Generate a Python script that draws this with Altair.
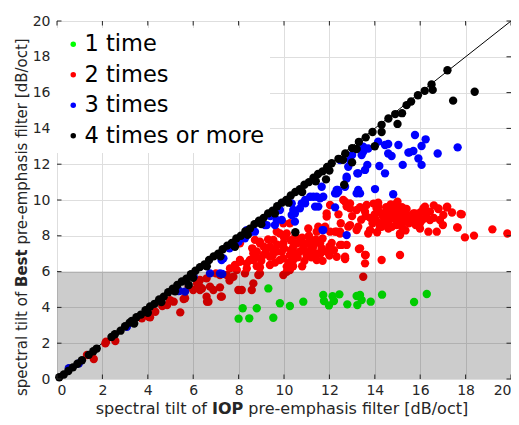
import altair as alt
import pandas as pd

groups = ["1 time", "2 times", "3 times", "4 times or more"]
group_colors = ["#00ff00", "#ff0000", "#0000ff", "#000000"]

green_pts = [
    (8.0, 3.37), (8.18, 3.95), (8.47, 3.39), (8.8, 3.95), (9.31, 5.06), (9.53, 3.42),
    (9.82, 4.23), (10.26, 4.08), (10.85, 4.32), (11.73, 4.69), (11.76, 4.36), (11.98, 4.11),
    (12.14, 4.62), (12.2, 4.36), (12.44, 4.73), (12.79, 4.17), (13.2, 4.64), (13.35, 4.69),
    (13.42, 4.41), (13.23, 4.13), (13.82, 4.32), (14.32, 4.71), (15.73, 4.30), (16.29, 4.75),
]

red_pts = [
    # upper band
    (14.15, 9.63), (14.52, 9.35), (14.7, 9.2), (14.9, 9.4), (15.1, 9.1), (14.4, 9.0),
    (14.6, 8.8), (14.85, 8.95), (15.0, 8.7), (15.3, 9.3), (14.3, 8.5), (14.75, 8.5),
    (15.2, 8.5), (16.14, 9.53), (16.43, 9.35), (16.8, 9.53), (17.17, 9.58), (17.78, 9.22),
    (17.63, 8.47), (17.97, 7.91), (18.37, 8.01), (19.18, 8.36), (19.84, 8.13), (12.91, 9.53),
    (13.64, 9.72), (13.57, 9.35), (12.61, 10.0), (12.91, 9.81), (11.88, 9.07), (12.03, 9.72),
    (11.81, 8.51), (11.07, 8.41), (11.51, 8.51), (12.03, 8.23), (12.25, 8.23), (12.47, 8.23),
    (12.83, 8.51), (13.27, 8.51), (13.71, 8.13), (14.38, 8.7), (15.11, 8.04), (15.7, 9.25),
    (15.99, 8.7), (16.36, 8.23), (16.73, 8.23), (17.65, 8.46), (17.83, 9.2), (17.19, 9.63),
    (16.8, 9.5), (16.21, 9.63), (16.26, 9.25), (16.43, 8.88), (15.99, 8.41), (15.77, 9.25),
    (15.4, 8.97), (15.11, 8.13), (14.67, 9.53), (14.81, 9.07), (14.52, 8.7), (14.96, 8.6),
    (14.15, 9.85), (14.08, 9.53), (14.05, 8.88), (14.23, 8.51), (13.79, 8.32), (13.2, 9.44),
    (12.91, 8.6), (13.2, 8.32), (12.76, 9.63), (12.69, 9.91), (16.87, 8.88), (17.02, 9.16),
    (12.47, 8.13), (11.88, 9.25), (12.32, 8.23), (11.44, 8.23), (10.26, 8.7), (9.82, 8.13),
    (9.97, 8.7), (9.68, 8.23), (10.12, 8.13), (9.97, 8.04),
    (14.3, 9.2), (14.5, 9.6), (14.7, 9.75), (15.2, 9.6), (15.4, 9.5), (15.5, 8.7),
    (15.6, 8.9), (14.0, 9.2), (13.9, 8.7), (14.1, 8.2), (15.0, 9.9), (15.9, 9.0),
    (16.1, 8.9), (16.6, 9.0), (13.4, 8.9), (13.0, 9.1), (12.5, 8.7), (12.4, 9.2),
    (13.8, 9.0), (14.2, 9.35), (14.45, 9.15), (14.65, 9.45), (14.9, 9.2), (15.1, 9.5),
    (15.25, 8.8), (15.45, 9.15), (15.7, 8.95), (15.8, 8.6), (16.0, 9.3), (16.3, 9.0),
    (14.2, 8.7), (14.6, 8.4), (15.35, 8.3), (13.95, 9.8), (14.9, 9.75), (13.6, 9.1),
    (13.35, 9.6), (16.6, 9.7), (17.4, 9.3), (17.0, 8.6),
    # middle band
    (9.53, 7.77), (9.97, 7.58), (9.38, 7.39), (8.94, 7.67), (8.8, 7.12), (9.09, 6.93),
    (9.68, 7.12), (9.82, 6.65), (10.12, 6.28), (9.38, 6.37), (8.94, 6.24), (8.5, 6.65),
    (8.36, 6.18), (8.06, 6.55), (7.92, 6.09), (7.62, 6.18), (10.7, 7.67), (10.41, 7.39),
    (11.0, 7.57), (11.29, 7.49), (11.66, 7.3), (11.88, 7.12), (11.44, 7.02), (11.15, 7.12),
    (10.85, 7.21), (10.56, 7.02), (10.26, 6.93), (9.97, 6.74), (9.53, 7.21), (9.38, 6.83),
    (8.65, 6.65), (8.94, 7.58), (11.44, 6.65), (12.47, 7.49), (13.35, 7.3), (13.57, 6.93),
    (13.57, 6.46), (14.3, 6.65), (15.11, 6.93), (12.69, 6.74), (10.26, 6.09), (12.69, 6.7),
    (13.6, 6.93), (13.3, 7.26), (12.54, 7.49), (10.41, 6.65), (10.7, 7.12), (10.85, 7.39),
    (10.56, 7.58), (11.15, 7.77), (11.29, 7.39), (11.59, 7.58), (12.69, 6.83), (12.76, 7.49),
    (12.32, 6.83), (8.72, 7.77), (8.65, 7.02), (8.36, 6.46), (8.8, 6.3), (8.06, 6.65),
    (7.84, 6.37), (8.43, 8.13), (8.06, 7.58), (12.0, 6.9), (11.7, 6.6), (10.0, 7.9),
    (10.0, 7.3), (10.3, 7.2), (10.6, 6.8), (11.0, 6.9), (11.2, 7.3), (11.6, 7.0),
    (10.9, 6.6), (9.2, 7.1), (9.6, 6.5), (10.2, 6.5), (8.6, 7.3), (9.1, 7.4),
    (9.3, 7.8), (9.7, 7.5), (10.3, 7.75), (10.5, 8.0), (10.8, 7.9), (11.1, 8.0),
    (11.4, 7.8), (11.7, 7.85), (12.1, 7.6), (12.2, 7.2), (9.5, 6.9), (9.9, 7.1),
    (10.4, 6.3), (10.8, 6.3), (11.2, 6.8), (12.0, 7.4), (9.0, 6.6), (8.8, 6.8),
    # lower part (shaded region)
    (9.97, 5.81), (8.94, 5.9), (13.49, 5.71), (7.48, 5.81), (7.18, 5.81), (6.59, 5.62),
    (6.3, 5.53), (6.74, 5.16), (6.3, 4.97), (6.89, 4.97), (7.26, 4.6), (7.99, 4.97),
    (8.14, 4.97), (8.58, 4.97), (8.65, 5.34), (8.87, 5.81), (10.12, 5.99), (5.64, 4.51),
    (6.0, 4.97), (6.59, 4.6), (5.43, 3.72), (5.58, 4.47), (5.14, 4.32), (4.85, 4.13),
    (4.33, 3.76), (4.04, 3.48), (3.74, 3.39), (2.57, 2.12), (2.13, 1.99), (1.62, 1.12),
    (1.32, 1.34), (5.8, 5.16), (6.39, 5.06), (6.17, 5.34), (6.61, 4.32), (8.28, 5.9),
    (7.22, 4.6), (6.67, 4.32), (6.27, 5.2), (7.18, 5.12), (7.77, 5.71), (4.98, 4.41),
    (4.64, 4.08), (4.1, 3.45), (2.16, 2.08), (7.0, 5.9), (7.6, 5.5),
]

blue_pts = [
    (15.77, 13.63), (16.24, 13.39), (17.65, 12.94), (16.77, 12.6), (16.06, 11.96), (15.92, 12.32),
    (15.7, 12.74), (15.23, 11.96), (15.52, 12.66), (15.04, 13.07), (14.74, 12.46), (14.59, 12.6),
    (14.45, 13.07), (14.15, 13.26), (13.71, 12.88), (13.49, 12.7), (14.2, 11.9), (14.45, 11.49),
    (13.67, 11.96), (13.57, 11.68), (13.27, 11.49), (12.83, 11.86), (12.91, 12.23), (12.76, 11.2),
    (12.69, 10.74), (13.35, 10.37), (13.27, 10.56), (14.01, 10.61), (14.81, 10.32), (12.25, 10.37),
    (12.39, 10.46), (11.66, 10.74), (11.15, 10.18), (11.59, 10.09), (11.51, 9.63), (12.25, 9.59),
    (11.7, 8.32), (12.76, 8.04), (10.41, 9.44), (10.34, 9.16), (10.48, 8.79), (9.82, 9.44),
    (9.68, 8.88), (9.16, 8.6), (8.72, 8.23), (10.93, 9.81), (10.7, 9.53), (14.59, 13.13),
    (16.06, 13.02), (15.48, 12.65), (13.42, 12.51), (13.49, 12.98), (13.0, 12.51), (13.23, 11.49),
    (12.76, 11.3), (12.37, 10.56), (13.2, 10.37), (12.47, 12.23), (12.32, 10.56), (11.73, 10.18),
    (11.29, 10.18), (10.78, 9.81), (10.34, 9.81), (11.44, 10.18), (12.32, 10.37), (11.37, 9.63),
    (10.93, 10.0), (10.48, 9.25), (9.9, 8.88), (9.6, 8.6), (9.24, 8.6), (8.28, 7.86),
    (7.33, 6.74), (6.74, 5.9), (7.18, 5.9), (7.25, 6.65), (7.28, 5.87), (5.64, 4.88),
    (5.39, 4.92), (11.73, 8.32), (5.36, 4.91), (6.02, 5.71), (3.08, 2.92), (0.96, 0.87),
    (0.52, 0.6), (8.0, 7.7), (8.5, 8.2), (7.6, 7.3), (9.0, 8.8), (9.4, 9.1), (7.8, 7.5),
    (7.99, 7.67), (8.36, 8.32),
]

black_pts = [
    (0.1, 0.1), (0.3, 0.25), (0.5, 0.45), (0.7, 0.65), (0.9, 0.85), (1.1, 1.05), (1.4, 1.35),
    (1.6, 1.55), (1.75, 1.7), (2.4, 2.35), (2.55, 2.5), (2.8, 2.7), (3.0, 2.95), (3.2, 3.15),
    (3.3, 3.25), (3.5, 3.45), (3.7, 3.6), (3.9, 3.85), (4.1, 4.05), (4.3, 4.2), (4.5, 4.45),
    (4.7, 4.6), (4.9, 4.85), (5.1, 5.05), (5.3, 5.25), (5.5, 5.45), (5.7, 5.6), (5.9, 5.85),
    (6.1, 6.05), (6.3, 6.25), (6.5, 6.4), (6.7, 6.65), (6.9, 6.85), (7.1, 7.0), (7.3, 7.25),
    (7.5, 7.45), (7.7, 7.6), (7.9, 7.85), (8.1, 8.0), (8.3, 8.25), (8.5, 8.4), (8.7, 8.65),
    (8.9, 8.85), (9.1, 9.0), (9.3, 9.25), (9.5, 9.4), (9.7, 9.65), (9.9, 9.85), (10.1, 10.0),
    (10.3, 10.25), (10.5, 10.45), (10.7, 10.6), (10.9, 10.85), (11.1, 11.0), (11.3, 11.25),
    (11.5, 11.45), (11.7, 11.6), (11.9, 11.85), (12.1, 12.05), (12.4, 12.3), (12.7, 12.6),
    (13.0, 12.9), (13.3, 13.25), (13.6, 13.5), (13.9, 13.8), (14.3, 14.2), (14.6, 14.55),
    (14.9, 14.8), (15.4, 15.3), (15.6, 15.5), (15.9, 15.85), (16.2, 16.1), (16.5, 16.45),
    (17.2, 17.25),
    (3.4, 3.1), (4.0, 3.7), (4.6, 4.3), (5.2, 4.9), (6.0, 5.65), (6.6, 6.3), (7.2, 6.85),
    (7.8, 7.45), (8.4, 8.05), (9.0, 8.65), (9.6, 9.25), (10.2, 9.85), (10.8, 10.45),
    (11.4, 11.05), (12.0, 11.65), (12.6, 12.25), (13.2, 12.85),
    (18.4, 16.05), (17.45, 15.55), (16.55, 16.15), (15.2, 14.85), (15.0, 14.25), (14.3, 13.8),
    (14.0, 13.0), (13.0, 12.1), (12.65, 10.85), (11.85, 11.15), (10.5, 8.2), (5.8, 5.25),
    (7.84, 7.39),
]

axis_ticks = [0, 2, 4, 6, 8, 10, 12, 14, 16, 18, 20]
axis_range = [0, 20]
shade_band = [0, 6]
diag_x = [0, 20]
diag_y = [0, 20]

xtitle_parts = ["spectral tilt of", "IOP", "pre-emphasis filter [dB/oct]"]
ytitle_parts = ["spectral tilt of", "Best", "pre-emphasis filter [dB/oct]"]

W, H = 454, 358
FONT = "DejaVu Sans"
TXT = "#262626"

rows = []
for g, pts in zip(groups, [green_pts, red_pts, blue_pts, black_pts]):
    for x, y in pts:
        rows.append({"x": x, "y": y, "group": g})
df = pd.DataFrame(rows)
df["order"] = range(len(df))

xs = alt.Scale(domain=axis_range, nice=False, zero=False)
ys = alt.Scale(domain=axis_range, nice=False, zero=False)
x_axis = alt.Axis(values=axis_ticks, grid=True, gridColor="#dedede", gridWidth=1,
                  domain=False, ticks=False, labelFont=FONT, labelFontSize=14,
                  labelColor=TXT, labelPadding=4, title=None)
y_axis = alt.Axis(values=axis_ticks, grid=True, gridColor="#dedede", gridWidth=1,
                  domain=False, ticks=False, labelFont=FONT, labelFontSize=14,
                  labelColor=TXT, labelPadding=7, title=None)


def X(f):
    return alt.X(f + ":Q", scale=xs, axis=x_axis)


def Y(f):
    return alt.Y(f + ":Q", scale=ys, axis=y_axis)


points = alt.Chart(df).mark_circle(size=70, opacity=1).encode(
    x=X("x"), y=Y("y"),
    color=alt.Color("group:N", scale=alt.Scale(domain=groups, range=group_colors),
                    legend=alt.Legend(orient="none", legendX=0, legendY=7, padding=5,
                                      fillColor="white", title=None, labelFont=FONT,
                                      labelFontSize=22.5, labelColor="black", labelLimit=400,
                                      symbolSize=30, symbolType="circle", rowPadding=7.5,
                                      labelOffset=0, symbolStrokeWidth=0)),
    order=alt.Order("order:Q"),
)

shade = alt.Chart(pd.DataFrame({"x0": [axis_range[0]], "x1": [axis_range[1]],
                                "y0": [shade_band[0]], "y1": [shade_band[1]]})).mark_rect(
    color="black", opacity=0.2).encode(x=X("x0"), x2="x1", y=Y("y0"), y2="y1")

diag = alt.Chart(pd.DataFrame({"x": diag_x, "y": diag_y})).mark_line(
    color="black", strokeWidth=1).encode(x=X("x"), y=Y("y"))

tdf = pd.DataFrame({"t": axis_ticks})
TL = 4.5
tick_b = alt.Chart(tdf).mark_rule(color=TXT).encode(x=X("t"), y=alt.value(H), y2=alt.value(H - TL))
tick_t = alt.Chart(tdf).mark_rule(color=TXT).encode(x=X("t"), y=alt.value(0), y2=alt.value(TL))
tick_l = alt.Chart(tdf).mark_rule(color=TXT).encode(y=Y("t"), x=alt.value(0), x2=alt.value(TL))
tick_r = alt.Chart(tdf).mark_rule(color=TXT).encode(y=Y("t"), x=alt.value(W), x2=alt.value(W - TL))


def txt(s, x, y, align, bold, size, angle=0):
    return alt.Chart(pd.DataFrame({"s": [s]})).mark_text(
        align=align, baseline="alphabetic", font=FONT, fontSize=size,
        fontWeight="bold" if bold else "normal", color=TXT, angle=angle,
    ).encode(text="s:N", x=alt.value(x), y=alt.value(y))


# x title (bold middle word)
xb = 155
XT_Y = 393
texts = [
    txt(xtitle_parts[0], xb - 5, XT_Y, "right", False, 16),
    txt(xtitle_parts[1], xb, XT_Y, "left", True, 16),
    txt(xtitle_parts[2], xb + 31.2 + 5.1, XT_Y, "left", False, 16),
]
# y title (rotated, bold middle word)
yb = 266
texts += [
    txt(ytitle_parts[0], -30, yb + 4.8, "right", False, 15, 270),
    txt(ytitle_parts[1], -30, yb, "left", True, 15, 270),
    txt(ytitle_parts[2], -30, yb - 37.7 - 4.8, "left", False, 15, 270),
]

chart = alt.layer(diag, points, shade, tick_b, tick_t, tick_l, tick_r, *texts).properties(
    width=W, height=H,
    padding={"left": 49, "top": 13, "right": 0, "bottom": 38},
    autosize=alt.AutoSizeParams(type="none"),
).configure(font=FONT).configure_view(stroke=TXT, strokeWidth=1)

chart.save("out.html", embed_options={"renderer": "svg", "actions": False})
